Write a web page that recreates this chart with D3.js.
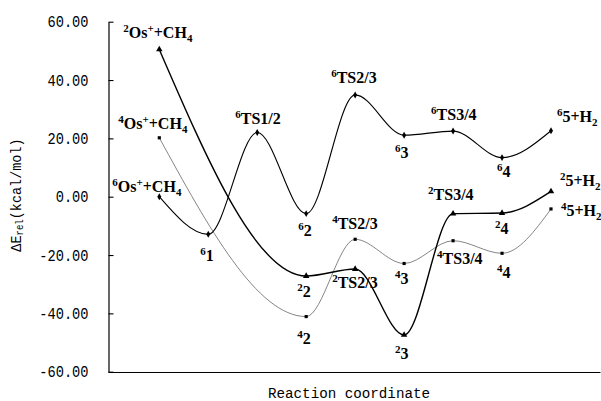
<!DOCTYPE html>
<html>
<head>
<meta charset="utf-8">
<script src="https://cdn.jsdelivr.net/npm/d3@7"></script>
<style>
  body { margin: 0; background: #fff; }
  svg { display: block; }
</style>
</head>
<body>
<svg id="chart" width="601" height="401"></svg>
<script>
// Reaction stages along the coordinate (R = Os+ + CH4, P = 5 + H2)
const stages = ['R', '1', 'TS1/2', '2', 'TS2/3', '3', 'TS3/4', '4', 'P'];

// Sextet surface
const sextetStages = ['R', '1', 'TS1/2', '2', 'TS2/3', '3', 'TS3/4', '4', 'P'];
const sextetValues = [0.0, -12.9, 22.0, -5.8, 34.9, 21.1, 22.5, 13.4, 22.6];

// Quartet surface
const quartetStages = ['R', '2', 'TS2/3', '3', 'TS3/4', '4', 'P'];
const quartetValues = [20.2, -41.1, -14.6, -22.9, -15.1, -19.4, -4.2];

// Doublet surface
const doubletStages = ['R', '2', 'TS2/3', '3', 'TS3/4', '4', 'P'];
const doubletValues = [50.5, -27.2, -24.8, -47.4, -5.8, -5.6, 1.8];

const yTicks = [-60, -40, -20, 0, 20, 40, 60];

// Species labels: ^c = superscript char, _c = subscript char
const labelSeries = ['sextet', 'quartet', 'doublet', 'sextet', 'sextet', 'sextet', 'sextet', 'sextet', 'sextet', 'sextet', 'sextet',
                     'doublet', 'doublet', 'doublet', 'doublet', 'doublet', 'doublet',
                     'quartet', 'quartet', 'quartet', 'quartet', 'quartet', 'quartet'];
const labelStages = ['R', 'R', 'R', '1', 'TS1/2', '2', 'TS2/3', '3', 'TS3/4', '4', 'P',
                     '2', 'TS2/3', '3', 'TS3/4', '4', 'P',
                     '2', 'TS2/3', '3', 'TS3/4', '4', 'P'];
const labelTexts = ['^6Os^++CH_4', '^4Os^++CH_4', '^2Os^++CH_4', '^61', '^6TS1/2', '^62', '^6TS2/3', '^63', '^6TS3/4', '^64', '^65+H_2',
                    '^22', '^2TS2/3', '^23', '^2TS3/4', '^24', '^25+H_2',
                    '^42', '^4TS2/3', '^43', '^4TS3/4', '^44', '^45+H_2'];

// Label placement relative to its marker: [dx, dy] to text start / baseline
const labelOffsets = [[-47, -5], [-41, -9], [-36, -11], [-8, 27], [-22, -9], [-8, 22], [-24, -12], [-9, 23], [-22, -11], [-5, 19], [6, -9],
                      [-9, 21], [-23, 19], [-9, 24], [-25, -14], [-7, 21], [9, -5],
                      [-9, 27], [-23, -10], [-9, 21], [-16, 23], [-5, 25], [10, 7]];

const svg = d3.select('#chart');

const x = d3.scalePoint().domain(stages).range([159.3, 551]);
const y = d3.scaleLinear().domain([-60, 60]).range([371.7, 21.7]);

const monoFont = '"Liberation Mono", "DejaVu Sans Mono", monospace';
const serifFont = '"Liberation Serif", "Times New Roman", serif';

// Left axis with inward ticks
const yAxis = svg.append('g')
  .attr('transform', 'translate(108.5,0)')
  .call(d3.axisLeft(y).tickValues(yTicks).tickFormat(d => d.toFixed(2))
    .tickSize(-5).tickSizeOuter(0).tickPadding(20));
yAxis.select('.domain').attr('stroke', '#000').attr('stroke-width', 1.2);
yAxis.selectAll('.tick line').attr('stroke', '#000').attr('stroke-width', 1.1);
yAxis.selectAll('.tick text')
  .attr('font-family', monoFont)
  .attr('font-size', 16)
  .attr('fill', '#000')
  .attr('textLength', d => d.toFixed(2).length * 8.2)
  .attr('lengthAdjust', 'spacingAndGlyphs');

// Bottom axis line
const xLine = d3.scaleLinear().domain([0, 1]).range([108, 600]);
const xAxis = svg.append('g')
  .attr('transform', 'translate(0,372)')
  .call(d3.axisBottom(xLine).ticks(0).tickSizeOuter(0));
xAxis.select('.domain').attr('stroke', '#000').attr('stroke-width', 1.2);

// Axis titles
svg.append('text')
  .attr('x', 349).attr('y', 398)
  .attr('text-anchor', 'middle')
  .attr('font-family', monoFont)
  .attr('font-size', 14)
  .attr('textLength', 162)
  .attr('lengthAdjust', 'spacingAndGlyphs')
  .text('Reaction coordinate');

const yTitle = svg.append('text')
  .attr('transform', 'translate(21,195) rotate(-90) scale(0.9,1)')
  .attr('text-anchor', 'middle')
  .attr('font-family', monoFont)
  .attr('font-size', 15);
yTitle.append('tspan').text('\u0394E');
yTitle.append('tspan').attr('font-size', 10).attr('dy', 2).text('rel');
yTitle.append('tspan').attr('dy', -2).text('(kcal/mol)');

// Energy profiles
const line = d3.line()
  .x(d => x(d[0]))
  .y(d => y(d[1]))
  .curve(d3.curveMonotoneX);

const series = {
  sextet:  { stages: sextetStages,  values: sextetValues,  stroke: '#000', width: 1.1, symbol: d3.symbolDiamond,  size: 14 },
  quartet: { stages: quartetStages, values: quartetValues, stroke: '#666', width: 0.8, symbol: d3.symbolSquare,   size: 10 },
  doublet: { stages: doubletStages, values: doubletValues, stroke: '#000', width: 1.4, symbol: d3.symbolTriangle, size: 18 }
};

['quartet', 'sextet', 'doublet'].forEach(key => {
  const s = series[key];
  const pts = s.stages.map((st, i) => [st, s.values[i]]);
  svg.append('path')
    .datum(pts)
    .attr('fill', 'none')
    .attr('stroke', s.stroke)
    .attr('stroke-width', s.width)
    .attr('d', line);
  svg.append('g').selectAll('path')
    .data(pts)
    .join('path')
    .attr('transform', d => `translate(${x(d[0])},${y(d[1])})`)
    .attr('d', d3.symbol().type(s.symbol).size(s.size))
    .attr('fill', '#000');
});

// Rich text helper: ^c superscript, _c subscript
function richText(textSel, str) {
  let i = 0, buf = '', shift = 0;
  const flush = () => {
    if (buf) {
      textSel.append('tspan').attr('dy', -shift).text(buf);
      shift = 0; buf = '';
    }
  };
  while (i < str.length) {
    const c = str[i];
    if ((c === '^' || c === '_') && i + 1 < str.length) {
      flush();
      const off = c === '^' ? -6 : 4;
      textSel.append('tspan').attr('font-size', 11).attr('dy', off - shift).text(str[i + 1]);
      shift = off;
      i += 2;
    } else {
      buf += c;
      i += 1;
    }
  }
  flush();
}

labelTexts.forEach((t, i) => {
  const s = series[labelSeries[i]];
  const v = s.values[s.stages.indexOf(labelStages[i])];
  const [dx, dy] = labelOffsets[i];
  const txt = svg.append('text')
    .attr('x', x(labelStages[i]) + dx)
    .attr('y', y(v) + dy)
    .attr('font-family', serifFont)
    .attr('font-weight', 'bold')
    .attr('font-size', 16)
    .attr('fill', '#000');
  richText(txt, t);
});
</script>
</body>
</html>
